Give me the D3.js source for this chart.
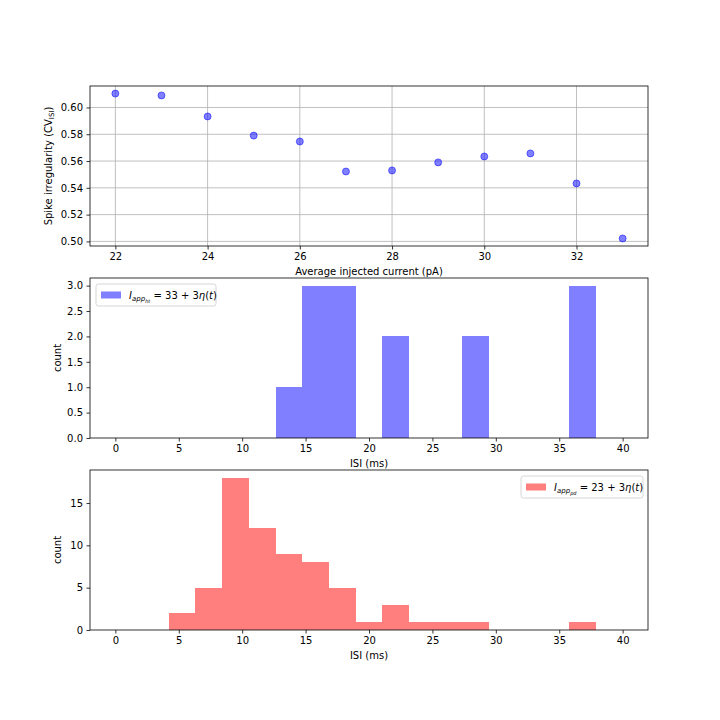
<!DOCTYPE html>
<html>
<head>
<meta charset="utf-8">
<script src="https://cdn.jsdelivr.net/npm/d3@7"></script>
<style>
  body { margin: 0; background: #fff; }
  text { font-family: "DejaVu Sans", sans-serif; }
</style>
</head>
<body>
<div id="chart"></div>
<script>
// scatter: spike irregularity vs mean current
const currents = [22, 23, 24, 25, 26, 27, 28, 29, 30, 31, 32, 33];
const cv_isi = [0.6104, 0.609, 0.5933, 0.579, 0.5746, 0.5522, 0.553, 0.559, 0.5634, 0.5657, 0.5433, 0.5022];

// histograms: 19 bins over 0..40 ms
const n_bins = 19;
const bin_lo = 0, bin_hi = 40;
const counts_ht = [0, 0, 0, 0, 0, 0, 1, 3, 3, 0, 2, 0, 0, 2, 0, 0, 0, 3, 0];
const counts_pd = [0, 0, 2, 5, 18, 12, 9, 8, 5, 1, 3, 1, 1, 1, 0, 0, 0, 1, 0];

const x_ticks_scatter = [22, 24, 26, 28, 30, 32];
const y_ticks_scatter = [0.50, 0.52, 0.54, 0.56, 0.58, 0.60];
const isi_ticks = [0, 5, 10, 15, 20, 25, 30, 35, 40];
const ht_ticks = [0, 0.5, 1, 1.5, 2, 2.5, 3];
const pd_ticks = [0, 5, 10, 15];

const width = 720, height = 720;
const left = 90, right = 648;

const svg = d3.select("#chart").append("svg")
  .attr("width", width).attr("height", height)
  .style("background", "white");

function draw_axes(g, x, y, xticks, yticks, xfmt, yfmt, top, bottom, grid) {
  if (grid) {
    g.append("g").selectAll("line").data(xticks).join("line")
      .attr("x1", d => x(d)).attr("x2", d => x(d))
      .attr("y1", top).attr("y2", bottom)
      .attr("stroke", "#b0b0b0").attr("stroke-width", 0.8);
    g.append("g").selectAll("line").data(yticks).join("line")
      .attr("x1", left).attr("x2", right)
      .attr("y1", d => y(d)).attr("y2", d => y(d))
      .attr("stroke", "#b0b0b0").attr("stroke-width", 0.8);
  }
  const xa = g.append("g").attr("transform", `translate(0,${bottom})`)
    .call(d3.axisBottom(x).tickValues(xticks).tickFormat(xfmt).tickSize(3.5).tickPadding(3.5));
  const ya = g.append("g").attr("transform", `translate(${left},0)`)
    .call(d3.axisLeft(y).tickValues(yticks).tickFormat(yfmt).tickSize(3.5).tickPadding(3.5));
  [xa, ya].forEach(a => {
    a.select(".domain").remove();
    a.selectAll("line").attr("stroke", "black").attr("stroke-width", 0.8);
    a.selectAll("text").attr("font-size", 10).attr("fill", "black")
      .style("font-family", "DejaVu Sans, sans-serif");
  });
  g.append("rect")
    .attr("x", left).attr("y", top)
    .attr("width", right - left).attr("height", bottom - top)
    .attr("fill", "none").attr("stroke", "black").attr("stroke-width", 0.8);
}

// ---- top: scatter ----
const top1 = 86, bot1 = 246;
const x1 = d3.scaleLinear().domain([21.45, 33.55]).range([left, right]);
const y1 = d3.scaleLinear().domain([0.49656, 0.61604]).range([bot1, top1]);
const g1 = svg.append("g");
draw_axes(g1, x1, y1, x_ticks_scatter, y_ticks_scatter, d3.format("d"), d3.format(".2f"), top1, bot1, true);

g1.append("g").selectAll("circle").data(currents).join("circle")
  .attr("cx", d => x1(d))
  .attr("cy", (d, i) => y1(cv_isi[i]))
  .attr("r", 3.5)
  .attr("fill", "blue").attr("fill-opacity", 0.5)
  .attr("stroke", "blue").attr("stroke-opacity", 0.5).attr("stroke-width", 1);

g1.append("text")
  .attr("x", (left + right) / 2).attr("y", 275)
  .attr("text-anchor", "middle").attr("font-size", 10)
  .text("Average injected current (pA)");

const ylab1 = g1.append("text")
  .attr("transform", `translate(52,${(top1 + bot1) / 2}) rotate(-90)`)
  .attr("text-anchor", "middle").attr("font-size", 10);
ylab1.append("tspan").text("Spike irregularity (CV");
ylab1.append("tspan").attr("font-size", 7).attr("dy", 2).text("ISI");
ylab1.append("tspan").attr("dy", -2).text(")");

// ---- histograms ----
const edges = d3.range(n_bins + 1).map(i => bin_lo + i * (bin_hi - bin_lo) / n_bins);
const xh = d3.scaleLinear().domain([-2, 42]).range([left, right]);

function histogram(counts, top, bottom, ymax, yticks, yfmt, color, legend) {
  const g = svg.append("g");
  const y = d3.scaleLinear().domain([0, ymax * 1.05]).range([bottom, top]);
  const bins = counts.map((c, i) => ({ x0: edges[i], x1: edges[i + 1], c }));
  g.append("g").selectAll("rect").data(bins.filter(b => b.c > 0)).join("rect")
    .attr("x", d => xh(d.x0))
    .attr("width", d => xh(d.x1) - xh(d.x0))
    .attr("y", d => y(d.c))
    .attr("height", d => y(0) - y(d.c))
    .attr("shape-rendering", "crispEdges")
    .attr("fill", color).attr("fill-opacity", 0.5);
  draw_axes(g, xh, y, isi_ticks, yticks, d3.format("d"), yfmt, top, bottom, false);

  g.append("text")
    .attr("x", (left + right) / 2).attr("y", bottom + 29)
    .attr("text-anchor", "middle").attr("font-size", 10)
    .text("ISI (ms)");
  g.append("text")
    .attr("transform", `translate(61,${(top + bottom) / 2}) rotate(-90)`)
    .attr("text-anchor", "middle").attr("font-size", 10)
    .text("count");

  // legend
  const lg = g.append("g").attr("transform", `translate(${legend.x},${legend.y})`);
  lg.append("rect")
    .attr("width", legend.w).attr("height", 22).attr("rx", 2.5)
    .attr("fill", "white").attr("fill-opacity", 0.8)
    .attr("stroke", "#cccccc").attr("stroke-width", 0.8);
  lg.append("rect")
    .attr("x", 5).attr("y", 7.5).attr("width", 20).attr("height", 7)
    .attr("fill", color).attr("fill-opacity", 0.5);
  const t = lg.append("text").attr("x", 33).attr("y", 15).attr("font-size", 10);
  t.append("tspan").attr("font-style", "italic").text("I");
  t.append("tspan").attr("font-size", 7).attr("dy", 2).attr("font-style", "italic").text("app");
  t.append("tspan").attr("font-size", 5).attr("dy", 1.5).attr("font-style", "italic").text(legend.sub);
  t.append("tspan").attr("dy", -3.5).text(` = ${legend.mean} + 3`);
  t.append("tspan").attr("font-style", "italic").text("η");
  t.append("tspan").text("(");
  t.append("tspan").attr("font-style", "italic").text("t");
  t.append("tspan").text(")");
}

histogram(counts_ht, 278, 438, d3.max(counts_ht), ht_ticks, d3.format(".1f"), "blue",
  { x: 96, y: 284, w: 120, sub: "ht", mean: 33 });
histogram(counts_pd, 470, 630, d3.max(counts_pd), pd_ticks, d3.format("d"), "red",
  { x: 521, y: 476, w: 122, sub: "pd", mean: 23 });
</script>
</body>
</html>
